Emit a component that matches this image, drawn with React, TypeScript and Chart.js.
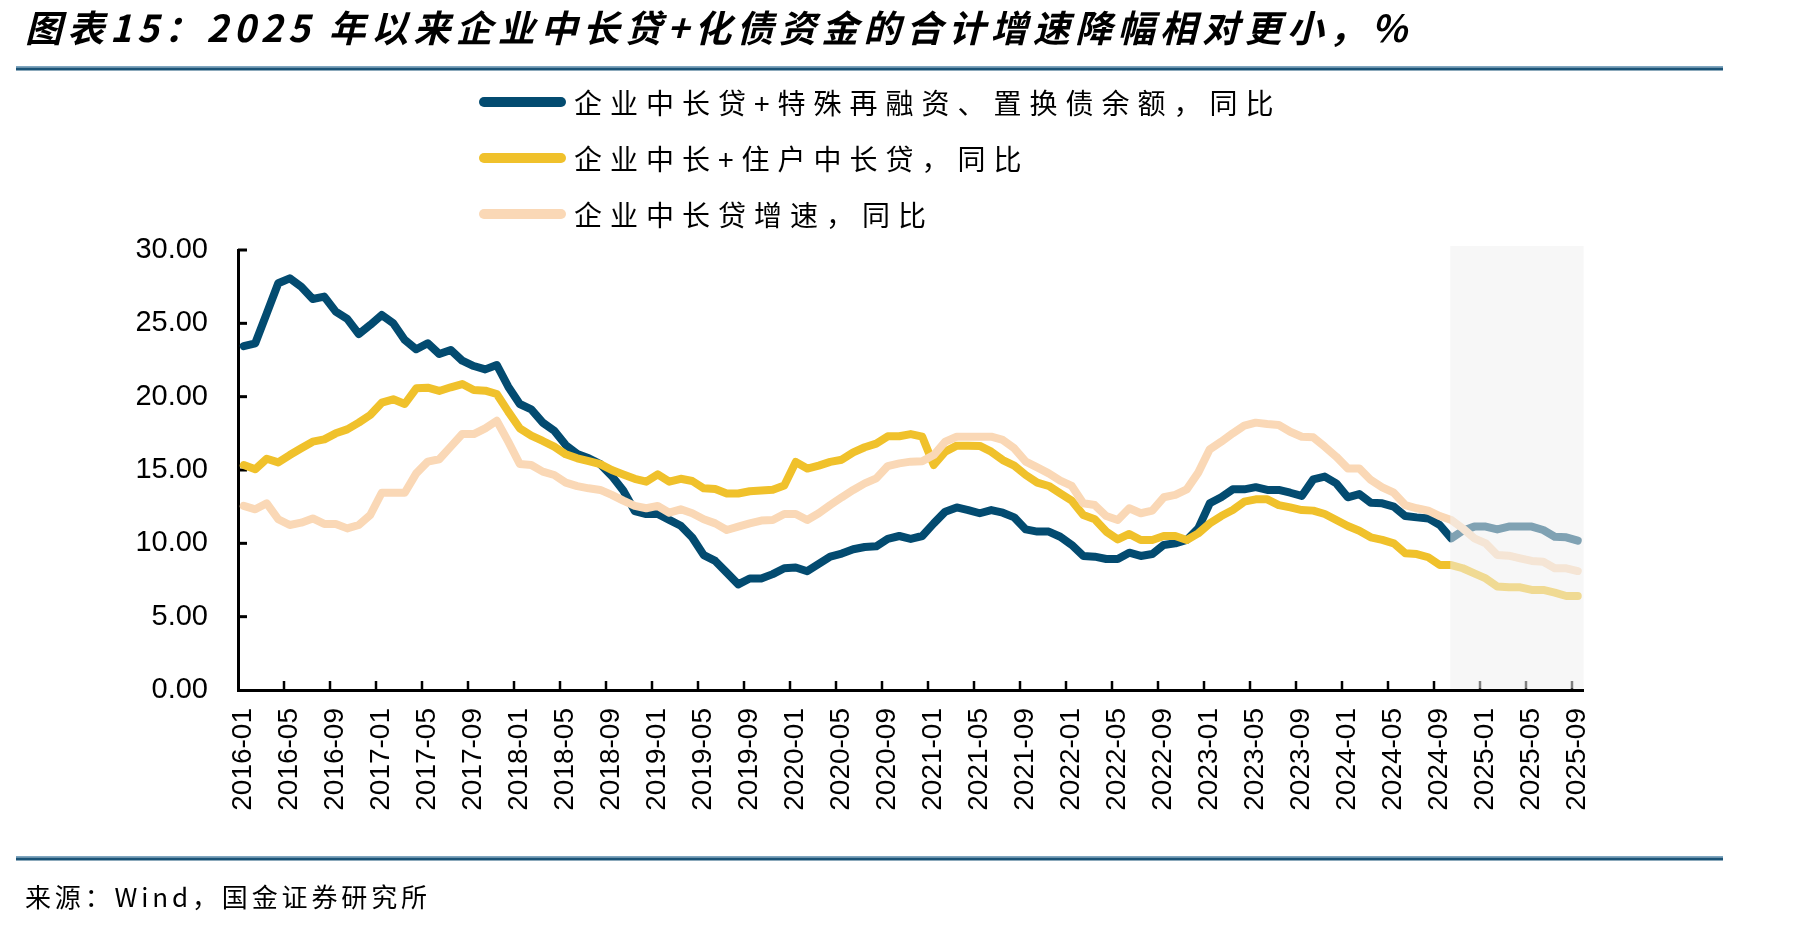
import React, { useEffect, useRef } from 'react';
import { Chart, registerables } from 'chart.js';

Chart.register(...registerables);

const TITLE = '图表15：2025 年以来企业中长贷+化债资金的合计增速降幅相对更小，%';
const SOURCE = '来源：Wind，国金证券研究所';

const SERIES_NAMES = [
  '企业中长贷+特殊再融资、置换债余额，同比',
  '企业中长+住户中长贷，同比',
  '企业中长贷增速，同比',
];
const SERIES_COLORS = ['#034B70', '#F0C12B', '#FAD8B6'];

// Monthly categories 2016-01 .. 2025-09
const START_YEAR = 2016;
const END_YEAR = 2025;
const END_MONTH = 9;
const MONTHS: string[] = [];
for (let yr = START_YEAR; yr <= END_YEAR; yr++) {
  for (let m = 1; m <= 12; m++) {
    if (yr === END_YEAR && m > END_MONTH) break;
    MONTHS.push(`${yr}-${String(m).padStart(2, '0')}`);
  }
}
const LABEL_EVERY = 4;
const SHADE_START = '2024-10';
const Y_TICKS = [0, 5, 10, 15, 20, 25, 30];

const corpPlusDebt: number[] = [
  23.45, 23.64, 25.68, 27.73, 28.07, 27.5, 26.66, 26.82, 25.8, 25.3, 24.27, 24.89, 25.57, 25.0, 23.87, 23.23, 23.64, 22.91, 23.18, 22.45, 22.09, 21.86, 22.16, 20.68, 19.5, 19.14, 18.23, 17.68, 16.7, 16.1,
  15.8, 15.4, 14.6, 13.6, 12.2, 12.0, 12.0, 11.6, 11.2, 10.4, 9.2, 8.8, 8.0, 7.2, 7.6, 7.6, 7.9, 8.3, 8.35, 8.1, 8.6, 9.1, 9.3, 9.6, 9.75, 9.8, 10.3, 10.5, 10.3, 10.5,
  11.36, 12.16, 12.45, 12.27, 12.05, 12.27, 12.09, 11.77, 10.95, 10.8, 10.8, 10.45, 9.89, 9.14, 9.09, 8.93, 8.93, 9.36, 9.14, 9.27, 9.89, 10.0, 10.23, 11.02, 12.73, 13.14, 13.68, 13.68, 13.83,
  13.64, 13.64, 13.45, 13.23, 14.36, 14.55, 14.09, 13.14, 13.36, 12.77, 12.73, 12.5, 11.86, 11.77, 11.7, 11.25, 10.34, 10.86, 11.14, 11.14, 10.95, 11.14, 11.14, 11.14, 10.91, 10.45, 10.41, 10.18,
];

const corpPlusHousehold: number[] = [
  15.34, 15.05, 15.77, 15.52, 16.02, 16.48, 16.93, 17.09, 17.5, 17.77, 18.23, 18.75, 19.59, 19.82, 19.5, 20.57, 20.61, 20.39, 20.64, 20.86, 20.45, 20.41, 20.18, 18.98, 17.84, 17.34, 16.98, 16.59, 16.07, 15.8,
  15.6, 15.4, 15.0, 14.7, 14.4, 14.2, 14.7, 14.2, 14.4, 14.25, 13.75, 13.7, 13.4, 13.4, 13.55, 13.6, 13.65, 13.95, 15.55, 15.1, 15.3, 15.55, 15.7, 16.2, 16.55, 16.8, 17.3, 17.3, 17.45, 17.27,
  15.34, 16.25, 16.66, 16.66, 16.64, 16.25, 15.68, 15.3, 14.66, 14.14, 13.91, 13.41, 12.91, 11.93, 11.64, 10.8, 10.27, 10.64, 10.23, 10.23, 10.5, 10.5, 10.23, 10.68, 11.36, 11.86, 12.27, 12.84, 13.0,
  13.0, 12.61, 12.45, 12.27, 12.23, 12.0, 11.59, 11.18, 10.86, 10.41, 10.23, 10.0, 9.32, 9.27, 9.05, 8.52, 8.52, 8.3, 7.95, 7.61, 7.05, 7.0, 7.0, 6.82, 6.82, 6.64, 6.41, 6.41,
];

const corpLoans: number[] = [
  12.55, 12.32, 12.73, 11.64, 11.25, 11.41, 11.7, 11.32, 11.32, 11.02, 11.25, 11.93, 13.45, 13.45, 13.45, 14.77, 15.57, 15.73, 16.59, 17.45, 17.45, 17.84, 18.36, 16.93, 15.41, 15.34, 14.89, 14.66, 14.14, 13.9,
  13.75, 13.64, 13.3, 12.91, 12.55, 12.39, 12.55, 12.09, 12.32, 12.05, 11.64, 11.36, 10.91, 11.14, 11.36, 11.55, 11.59, 12.0, 12.0, 11.59, 12.05, 12.61, 13.14, 13.64, 14.09, 14.43, 15.27, 15.45, 15.57, 15.6,
  16.02, 16.93, 17.27, 17.27, 17.27, 17.27, 17.05, 16.48, 15.57, 15.18, 14.77, 14.27, 13.91, 12.73, 12.61, 11.86, 11.59, 12.39, 12.05, 12.23, 13.14, 13.3, 13.68, 14.82, 16.41, 16.93, 17.5, 18.02, 18.23,
  18.14, 18.07, 17.61, 17.27, 17.23, 16.59, 15.91, 15.11, 15.11, 14.32, 13.82, 13.45, 12.61, 12.39, 12.23, 11.86, 11.59, 11.02, 10.34, 10.0, 9.2, 9.16, 8.98, 8.8, 8.75, 8.3, 8.3, 8.11,
];

const SERIES = [corpPlusDebt, corpPlusHousehold, corpLoans];
const CJK = '"Noto Sans CJK SC", "Noto Sans", sans-serif';
const LATIN = '"Liberation Sans", Arial, sans-serif';

function fitText(ctx: CanvasRenderingContext2D, text: string, x: number, y: number, width: number) {
  (ctx as any).letterSpacing = '0px';
  const w = ctx.measureText(text).width;
  const n = Array.from(text).length;
  const s = (width - w) / Math.max(1, n - 1);
  (ctx as any).letterSpacing = `${s}px`;
  ctx.fillText(text, x, y);
  (ctx as any).letterSpacing = '0px';
}

const decor = {
  id: 'decor',
  beforeDatasetsDraw(chart: any) {
    const { ctx, chartArea: a, scales } = chart;
    const x = scales.x;
    const y = scales.y;
    const n = MONTHS.length;
    const cw = (a.right - a.left) / n;
    ctx.save();
    ctx.strokeStyle = '#000';
    ctx.lineWidth = 2.5;
    for (let i = LABEL_EVERY; i < n; i += LABEL_EVERY) {
      const px = x.getPixelForValue(i) - cw / 2;
      ctx.beginPath();
      ctx.moveTo(px, a.bottom);
      ctx.lineTo(px, a.bottom - 9);
      ctx.stroke();
    }
    ctx.lineWidth = 3;
    for (const v of Y_TICKS) {
      if (v === 0) continue;
      const py = y.getPixelForValue(v);
      ctx.beginPath();
      ctx.moveTo(a.left, py);
      ctx.lineTo(a.left + 9, py);
      ctx.stroke();
    }
    ctx.restore();
  },
  afterDatasetsDraw(chart: any) {
    const { ctx, chartArea: a, scales } = chart;
    const x = scales.x;
    const idx = MONTHS.indexOf(SHADE_START);
    const x0 = x.getPixelForValue(idx) - 1;
    ctx.save();
    ctx.fillStyle = 'rgba(240,240,240,0.53)';
    ctx.fillRect(x0, a.top - 4, a.right - x0, a.bottom - 1.5 - (a.top - 4));
    ctx.restore();
  },
  afterDraw(chart: any) {
    const { ctx } = chart;
    ctx.save();
    // title
    ctx.fillStyle = '#000';
    ctx.textBaseline = 'middle';
    ctx.textAlign = 'left';
    ctx.font = `italic bold 37px ${CJK}`;
    fitText(ctx, TITLE, 25, 28, 1382);
    // rules
    ctx.fillStyle = '#7FA6C0';
    ctx.fillRect(16, 66, 1707, 1.5);
    ctx.fillStyle = '#1B5478';
    ctx.fillRect(16, 67.5, 1707, 3);
    ctx.fillStyle = '#7FA6C0';
    ctx.fillRect(16, 856, 1707, 1.5);
    ctx.fillStyle = '#1B5478';
    ctx.fillRect(16, 857.5, 1707, 3);
    // legend
    const rows = [102, 158, 214];
    chart.data.datasets.forEach((ds: any, i: number) => {
      const ry = rows[i];
      ctx.strokeStyle = ds.borderColor;
      ctx.lineWidth = 10;
      ctx.lineCap = 'round';
      ctx.beginPath();
      ctx.moveTo(484, ry);
      ctx.lineTo(561, ry);
      ctx.stroke();
      ctx.fillStyle = '#000';
      ctx.font = `28px ${CJK}`;
      (ctx as any).letterSpacing = '8px';
      ctx.fillText(ds.label, 574, ry + 1);
      (ctx as any).letterSpacing = '0px';
    });
    // source
    ctx.fillStyle = '#000';
    ctx.font = `26px ${CJK}`;
    fitText(ctx, SOURCE, 25, 897, 402);
    ctx.restore();
  },
};

export default function App() {
  const ref = useRef<HTMLCanvasElement | null>(null);
  useEffect(() => {
    document.body.style.margin = '0';
    document.body.style.overflow = 'hidden';
    const canvas = ref.current!;
    const chart = new Chart(canvas, {
      type: 'line',
      data: {
        labels: MONTHS,
        datasets: SERIES.map((d, i) => ({
          label: SERIES_NAMES[i],
          data: d,
          borderColor: SERIES_COLORS[i],
          backgroundColor: SERIES_COLORS[i],
          borderWidth: 8,
          pointRadius: 0,
          pointHoverRadius: 0,
          tension: 0,
          fill: false,
          borderCapStyle: 'round',
          borderJoinStyle: 'round',
          order: 3 - i,
        })),
      },
      options: {
        animation: false,
        responsive: false,
        devicePixelRatio: 1,
        layout: { padding: { left: 118, right: 227.5, top: 250, bottom: 88 } },
        plugins: {
          legend: { display: false },
          title: { display: false },
          tooltip: { enabled: false },
        },
        scales: {
          x: {
            type: 'category',
            offset: true,
            grid: { display: false, drawTicks: false, offset: true },
            border: { display: true, color: '#000', width: 3 },
            ticks: {
              autoSkip: false,
              minRotation: 90,
              maxRotation: 90,
              padding: 18,
              color: '#000',
              font: { family: LATIN, size: 28 },
              callback: (_v: any, i: number) => (i % LABEL_EVERY === 0 ? MONTHS[i] : null),
            },
            afterFit: (s: any) => { s.height = 150; },
          },
          y: {
            min: 0,
            max: 30,
            grid: { display: false, drawTicks: false },
            border: { display: true, color: '#000', width: 3 },
            ticks: {
              stepSize: 5,
              padding: 30,
              color: '#000',
              font: { family: LATIN, size: 29 },
              callback: (v: any) => Number(v).toFixed(2),
            },
            afterFit: (s: any) => { s.width = 120; },
          },
        },
      },
      plugins: [decor],
    } as any);
    return () => chart.destroy();
  }, []);
  return (
    <div style={{ width: 1811, height: 928, background: '#fff' }}>
      <canvas ref={ref} width={1811} height={928} style={{ display: 'block' }} />
    </div>
  );
}
